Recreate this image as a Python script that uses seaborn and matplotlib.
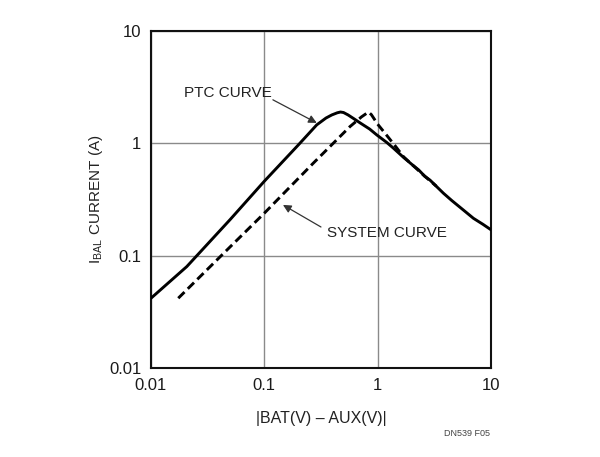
import matplotlib
matplotlib.use("Agg")
import matplotlib.pyplot as plt
import seaborn as sns
import pandas as pd

# PTC curve (solid)
ptc_x = [0.01, 0.0207, 0.05, 0.1, 0.2, 0.29, 0.35, 0.394, 0.44, 0.47, 0.5, 0.548, 0.62, 0.70, 0.85, 0.98,
         1.2, 1.37, 1.69, 2.0, 2.3, 2.6, 2.9, 3.33, 3.8, 4.5, 5.7, 7.0, 8.5, 10.0]
ptc_y = [0.0418, 0.080, 0.21, 0.46, 0.97, 1.46, 1.68, 1.79, 1.87, 1.90, 1.88, 1.79, 1.65, 1.52, 1.34, 1.19,
         1.02, 0.91, 0.75, 0.65, 0.58, 0.51, 0.47, 0.41, 0.36, 0.31, 0.255, 0.215, 0.19, 0.17]

# System curve (dashed)
sys_x = [0.0174, 0.05, 0.1, 0.27, 0.57, 0.72, 0.83, 0.88, 1.0, 1.2, 1.45, 1.69, 2.0, 2.6, 3.3]
sys_y = [0.0418, 0.12, 0.239, 0.665, 1.41, 1.72, 1.90, 1.80, 1.48, 1.18, 0.93, 0.76, 0.65, 0.51, 0.415]

x_ticks = [0.01, 0.1, 1, 10]
x_tick_labels = ["0.01", "0.1", "1", "10"]
y_ticks = [0.01, 0.1, 1, 10]
y_tick_labels = ["0.01", "0.1", "1", "10"]

sns.set_style("white")
FONT = ["Liberation Sans", "DejaVu Sans"]
plt.rcParams["font.family"] = FONT
plt.rcParams["mathtext.fontset"] = "custom"
plt.rcParams["mathtext.rm"] = "Liberation Sans"

fig = plt.figure(figsize=(6.0, 4.57), dpi=100)
ax = fig.add_axes([151 / 600, 1 - 368 / 457, 340 / 600, 337 / 457])

df_ptc = pd.DataFrame({"x": ptc_x, "y": ptc_y})
df_sys = pd.DataFrame({"x": sys_x, "y": sys_y})

sns.lineplot(data=df_ptc, x="x", y="y", ax=ax, color="black", linewidth=2.1, sort=False, zorder=4)
sns.lineplot(data=df_sys, x="x", y="y", ax=ax, color="black", linewidth=2.1, sort=False,
             linestyle=(0, (3.0, 1.6)), zorder=3)

ax.set_xscale("log")
ax.set_yscale("log")
ax.set_xlim(0.01, 10)
ax.set_ylim(0.01, 10)
ax.set_xticks(x_ticks)
ax.set_xticklabels(x_tick_labels)
ax.set_yticks(y_ticks)
ax.set_yticklabels(y_tick_labels)
ax.minorticks_off()
ax.tick_params(axis="both", length=0, labelsize=12, colors="#1a1a1a", pad=7)
ax.grid(True, which="major", color="#8a8a8a", linewidth=1.0)
for s in ax.spines.values():
    s.set_color("#111111")
    s.set_linewidth(1.5)
    s.set_visible(True)

ax.set_xlabel("|BAT(V) \u2013 AUX(V)|", fontsize=11.5, color="#222222", labelpad=13)
ax.set_ylabel(r"I$_{\mathregular{BAL}}$ CURRENT (A)", fontsize=11, color="#222222", labelpad=3)

ax.text(0.0478, 2.81, "PTC CURVE", fontsize=11, color="#222222", ha="center", va="center")
ax.annotate("", xy=(0.29, 1.52), xytext=(0.119, 2.44),
            arrowprops=dict(arrowstyle="-|>", color="#333333", lw=0.9, shrinkA=0, shrinkB=0,
                            mutation_scale=12))
ax.text(1.21, 0.159, "SYSTEM CURVE", fontsize=11, color="#222222", ha="center", va="center")
ax.annotate("", xy=(0.146, 0.283), xytext=(0.316, 0.18),
            arrowprops=dict(arrowstyle="-|>", color="#333333", lw=0.9, shrinkA=0, shrinkB=0,
                            mutation_scale=12))

fig.text(467 / 600, 1 - 433 / 457, "DN539 F05", fontsize=6.5, color="#444444", ha="center", va="center")

fig.savefig("out.png", dpi=100, facecolor="white")
